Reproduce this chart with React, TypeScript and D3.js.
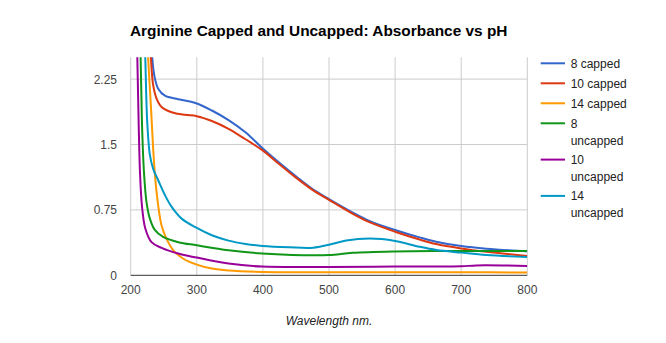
import React from "react";
import * as d3 from "d3";

const seriesNames = ["8 capped", "10 capped", "14 capped", "8 uncapped", "10 uncapped", "14 uncapped"];
const legendLines = [["8 capped"], ["10 capped"], ["14 capped"], ["8", "uncapped"], ["10", "uncapped"], ["14", "uncapped"]];
const colors = ["#3366cc", "#dc3912", "#ff9900", "#109618", "#990099", "#0099c6"];

const cap8: [number, number][] = [[226, 3.4], [232.5, 2.5], [236, 2.28], [241.6, 2.14], [251.8, 2.06], [272, 2.02], [300, 1.97], [322.8, 1.89], [348, 1.78], [373.6, 1.64], [399, 1.46], [424, 1.295], [450, 1.135], [475, 0.99], [500, 0.875], [536, 0.72], [561, 0.625], [600, 0.52], [637, 0.435], [662, 0.385], [700, 0.335], [738, 0.305], [800, 0.276]];
const cap10: [number, number][] = [[225, 3.4], [230.5, 2.5], [234, 2.18], [239, 2.03], [246.7, 1.93], [262, 1.87], [282, 1.84], [300, 1.825], [322.8, 1.77], [348, 1.68], [373.6, 1.56], [399, 1.435], [424, 1.28], [450, 1.12], [475, 0.98], [500, 0.865], [536, 0.705], [561, 0.61], [600, 0.5], [637, 0.41], [662, 0.358], [700, 0.308], [738, 0.27], [800, 0.222]];
const cap14: [number, number][] = [[222, 3.4], [226.4, 2.5], [230.5, 1.95], [234, 1.45], [237.6, 1.07], [241.6, 0.8], [246.7, 0.57], [254, 0.42], [264.5, 0.287], [279.7, 0.19], [300, 0.122], [322.8, 0.077], [348, 0.054], [399, 0.038], [500, 0.036], [600, 0.036], [700, 0.035], [800, 0.031]];
const uncap8: [number, number][] = [[211, 3.4], [215, 2.5], [217, 1.76], [220, 1.19], [223.9, 0.84], [229, 0.65], [236.5, 0.52], [249, 0.44], [272, 0.38], [300, 0.344], [348, 0.287], [399, 0.249], [460.6, 0.23], [500, 0.232], [536, 0.258], [600, 0.274], [662.6, 0.279], [700, 0.279], [800, 0.279]];
const uncap10: [number, number][] = [[207, 3.4], [210, 2.5], [212, 1.76], [214, 1.19], [217, 0.8], [222, 0.54], [231.5, 0.38], [246.7, 0.314], [272, 0.249], [300, 0.203], [348, 0.134], [399, 0.1], [500, 0.096], [600, 0.1], [700, 0.103], [723, 0.113], [800, 0.108]];
const uncap14: [number, number][] = [[218, 3.4], [222, 2.5], [225, 1.76], [229, 1.38], [234, 1.22], [241.6, 1.09], [251.8, 0.92], [262, 0.784], [277, 0.65], [300, 0.543], [322.8, 0.459], [348, 0.398], [373.6, 0.36], [399, 0.337], [440, 0.321], [476, 0.316], [500, 0.35], [526, 0.398], [561.6, 0.421], [600, 0.394], [637, 0.327], [662.6, 0.29], [700, 0.26], [738, 0.232], [800, 0.21]];
const allSeries = [cap8, cap10, cap14, uncap8, uncap10, uncap14];

const xTicks = [200, 300, 400, 500, 600, 700, 800];
const yTicks = [0, 0.75, 1.5, 2.25];

const W = 666, H = 343;
const L = 130.7, R = 527.3, T = 57.3, B = 275.3;

export default function App() {
  const x = d3.scaleLinear().domain([200, 800]).range([L, R]);
  const y = d3.scaleLinear().domain([0, 2.5]).range([B, T]);
  const line = d3.line<[number, number]>().x(d => x(d[0])).y(d => y(d[1])).curve(d3.curveCatmullRom.alpha(0.5));
  const font = "Arial, 'Liberation Sans', sans-serif";
  let ly = 63.3;
  const legendItems = legendLines.map((lines, i) => {
    const top = ly;
    ly += lines.length === 1 ? 20 : 36.3;
    return { lines, top, i };
  });
  return (
    <svg width={W} height={H} style={{ position: "absolute", left: 0, top: 0, background: "#fff" }} fontFamily={font}>
      <defs>
        <clipPath id="plot"><rect x={L} y={T} width={R - L} height={B - T} /></clipPath>
      </defs>
      <text x={130} y={35.5} fontSize={15.4} fontWeight="bold" fill="#000">Arginine Capped and Uncapped: Absorbance vs pH</text>
      {xTicks.map(t => (
        <line key={"gx" + t} x1={x(t)} x2={x(t)} y1={T} y2={B} stroke="#cccccc" strokeWidth={1} />
      ))}
      {yTicks.filter(t => t > 0).map(t => (
        <line key={"gy" + t} x1={L} x2={R} y1={y(t)} y2={y(t)} stroke="#cccccc" strokeWidth={1} />
      ))}
      <g clipPath="url(#plot)">
        {allSeries.map((s, i) => (
          <path key={seriesNames[i]} d={line(s) || ""} fill="none" stroke={colors[i]} strokeWidth={2} strokeLinejoin="round" />
        ))}
      </g>
      <line x1={L} x2={R} y1={B} y2={B} stroke="#333333" strokeWidth={1} />
      {xTicks.map(t => (
        <text key={"tx" + t} x={x(t)} y={294} fontSize={12} fill="#444" textAnchor="middle">{t}</text>
      ))}
      {yTicks.map(t => (
        <text key={"ty" + t} x={117} y={y(t) + 4.5} fontSize={12} fill="#444" textAnchor="end">{t}</text>
      ))}
      <text x={(L + R) / 2} y={325} fontSize={12} fontStyle="italic" fill="#222" textAnchor="middle">Wavelength nm.</text>
      {legendItems.map(({ lines, top, i }) => (
        <g key={"lg" + i}>
          <line x1={540.7} x2={565} y1={top} y2={top} stroke={colors[i]} strokeWidth={2} />
          {lines.map((ln, j) => (
            <text key={j} x={570.7} y={top + 4.5 + j * 17} fontSize={12} fill="#222">{ln}</text>
          ))}
        </g>
      ))}
    </svg>
  );
}
